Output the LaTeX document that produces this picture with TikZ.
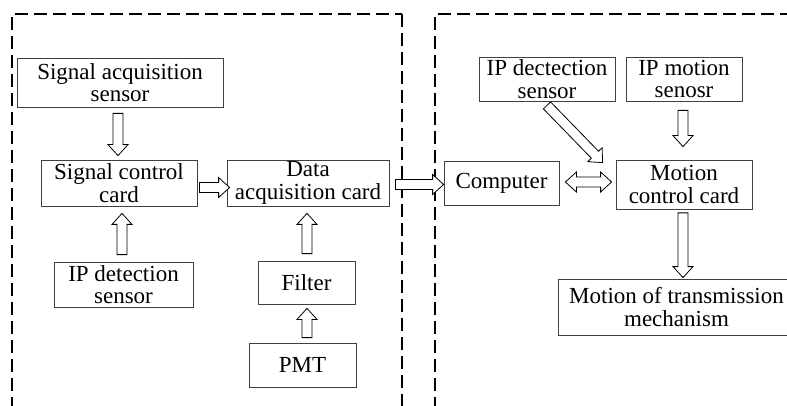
\documentclass[tikz,border=0pt]{standalone}
\usepackage{fontspec}
\setmainfont{Liberation Serif}
\usetikzlibrary{calc}
\newcommand\shaftw{5}
\newcommand\headw{10}
\newcommand\headl{11}
% hollow block arrow, #1 tail, #2 tip
\newcommand\fatarrow[2]{%
  \coordinate (t) at #1; \coordinate (h) at #2;
  \coordinate (n) at ($(h)!\headl pt!(t)$);
  \draw[arrowline] ($(t)!\shaftw pt!90:(h)$) -- ($(n)!\shaftw pt!-90:(t)$)
    -- ($(n)!\headw pt!-90:(t)$) -- (h) -- ($(n)!\headw pt!90:(t)$)
    -- ($(n)!\shaftw pt!90:(t)$) -- ($(t)!\shaftw pt!-90:(h)$) -- cycle;}
% same, with a head at both ends
\newcommand\fatarrows[2]{%
  \coordinate (t) at #1; \coordinate (h) at #2;
  \coordinate (n1) at ($(t)!\headl pt!(h)$);
  \coordinate (n2) at ($(h)!\headl pt!(t)$);
  \draw[arrowline] (t) -- ($(n1)!\headw pt!90:(h)$) -- ($(n1)!\shaftw pt!90:(h)$)
    -- ($(n2)!\shaftw pt!-90:(t)$) -- ($(n2)!\headw pt!-90:(t)$) -- (h)
    -- ($(n2)!\headw pt!90:(t)$) -- ($(n2)!\shaftw pt!90:(t)$)
    -- ($(n1)!\shaftw pt!-90:(h)$) -- ($(n1)!\headw pt!-90:(h)$) -- cycle;}

\begin{document}
\begin{tikzpicture}[x=1pt, y=-1pt,
  box/.style={draw=black!75, line width=0.8pt, inner sep=0pt, align=center,
    font=\fontsize{23}{22.5}\selectfont},
  arrowline/.style={draw=black, line width=0.8pt, fill=white, line join=miter},
  frame/.style={line width=2.2pt, dash pattern=on 13pt off 6pt}]

\useasboundingbox (0,0) rectangle (787,406);
\clip (0,0) rectangle (787,406);

% dashed frames
\draw[frame] (12,410) -- (12,14) -- (402,14);
\draw[frame, line width=1.3pt] (402,14) -- (402,410);
\draw[frame, line width=2.6pt] (435,410) -- (435,14) -- (800,14);

% left part
\node[box, minimum width=206pt, minimum height=49pt] (sacq) at (120,82.5) {Signal acquisition\\sensor};
\node[box, minimum width=156pt, minimum height=46pt] (sctrl) at (119,183) {Signal control\\card};
\node[box, minimum width=162pt, minimum height=46pt] (dacq) at (308,183) {Data\\acquisition card};
\node[box, minimum width=139pt, minimum height=45pt] (ipdet) at (123.5,284.5) {IP detection\\sensor};
\node[box, minimum width=97pt, minimum height=43pt] (filter) at (306.5,282.5) {Filter};
\node[box, minimum width=107pt, minimum height=44pt] (pmt) at (302.5,365) {PMT};

% right part
\node[box, minimum width=136pt, minimum height=44pt] (ipdect) at (547,79) {IP dectection\\sensor};
\node[box, minimum width=116pt, minimum height=44pt] (ipmot) at (684,79) {IP motion\\senosr};
\node[box, minimum width=115pt, minimum height=44pt] (comp) at (501.5,183) {Computer};
\node[box, minimum width=136pt, minimum height=49pt] (mctrl) at (684,184.5) {Motion\\control card};
\node[box, minimum width=237pt, minimum height=56pt] (mtrans) at (676.5,307) {Motion of transmission\\mechanism};

\fatarrow{($(sacq.south)+(-2,6)$)}{($(sctrl.north)+(-1,-4)$)}
\fatarrow{($(ipdet.north)+(-1.5,-7)$)}{($(sctrl.south)+(3,7)$)}
\fatarrow{($(sctrl.east)+(2,4.5)$)}{($(dacq.west)+(3,4.5)$)}
\fatarrow{($(filter.north)+(0.5,-7)$)}{($(dacq.south)+(-1,7)$)}
\fatarrow{($(pmt.north)+(4.5,-5)$)}{($(filter.south)+(0.5,4)$)}
\fatarrow{($(dacq.east)+(6,1.5)$)}{($(comp.west)+(0,1.5)$)}
\fatarrow{($(ipdect.south)+(0,4)$)}{($(mctrl.north west)+(-13,3)$)}
\fatarrow{($(ipmot.south)+(-1,9)$)}{($(mctrl.north)+(-1,-13)$)}
\fatarrows{($(comp.east)+(6,-1)$)}{($(mctrl.west)+(-4,-2.5)$)}
\fatarrow{($(mctrl.south)+(-1,3.5)$)}{($(mtrans.north)+(6.5,-1)$)}

\end{tikzpicture}
\end{document}
